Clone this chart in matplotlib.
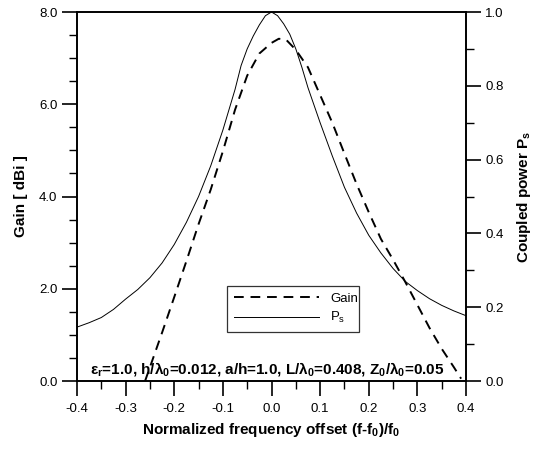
import matplotlib
matplotlib.use("Agg")
import matplotlib.pyplot as plt
from matplotlib.ticker import MultipleLocator, FormatStrFormatter
from matplotlib.lines import Line2D

plt.rcParams['font.family'] = ['Liberation Sans', 'DejaVu Sans']
plt.rcParams['axes.unicode_minus'] = False
plt.rcParams['mathtext.fontset'] = 'custom'
plt.rcParams['mathtext.rm'] = 'Liberation Sans'
plt.rcParams['mathtext.bf'] = 'Liberation Sans:bold'
plt.rcParams['mathtext.it'] = 'Liberation Sans:italic'
plt.rcParams['mathtext.default'] = 'rm'

# Coupled power Ps (right axis)
x_ps = [-0.4, -0.375, -0.35, -0.325, -0.3, -0.275, -0.25, -0.225, -0.2, -0.175,
        -0.15, -0.125, -0.1, -0.075, -0.0625, -0.05, -0.0375, -0.025, -0.0125,
        0.0, 0.0125, 0.025, 0.0375, 0.05, 0.0625, 0.075, 0.1, 0.125, 0.15,
        0.175, 0.2, 0.225, 0.25, 0.275, 0.3, 0.325, 0.35, 0.375, 0.4]
ps = [0.146, 0.158, 0.172, 0.194, 0.222, 0.248, 0.280, 0.320, 0.370, 0.430,
      0.500, 0.583, 0.680, 0.790, 0.855, 0.900, 0.935, 0.965, 0.990,
      1.000, 0.990, 0.968, 0.940, 0.900, 0.850, 0.795, 0.700, 0.610, 0.525,
      0.455, 0.395, 0.347, 0.305, 0.270, 0.245, 0.223, 0.205, 0.190, 0.177]

# Gain in dBi (left axis)
x_gain = [-0.26, -0.25, -0.225, -0.2, -0.175, -0.15, -0.125, -0.1, -0.075,
          -0.05, -0.025, 0.0, 0.015, 0.03, 0.05, 0.075, 0.1, 0.125, 0.15,
          0.175, 0.2, 0.225, 0.25, 0.275, 0.3, 0.325, 0.35, 0.375, 0.39]
gain = [0.0, 0.30, 1.05, 1.82, 2.60, 3.40, 4.15, 4.98, 5.88,
        6.62, 7.10, 7.33, 7.42, 7.40, 7.18, 6.80, 6.20, 5.60, 4.93,
        4.27, 3.66, 3.08, 2.63, 2.15, 1.65, 1.15, 0.70, 0.30, 0.05]

fig = plt.figure(figsize=(5.43, 4.49), dpi=100)
ax = fig.add_axes([77 / 543, 1 - 381 / 449, 389 / 543, 369 / 449])
ax2 = ax.twinx()

ax.plot(x_gain, gain, color='black', lw=1.4, ls=(0, (5, 3.5)))
ax2.plot(x_ps, ps, color='black', lw=0.7)

ax.set_xlim(-0.4, 0.4)
ax.set_ylim(0, 8)
ax2.set_ylim(0, 1)

ax.xaxis.set_major_locator(MultipleLocator(0.1))
ax.xaxis.set_minor_locator(MultipleLocator(0.05))
ax.yaxis.set_major_locator(MultipleLocator(2))
ax.yaxis.set_minor_locator(MultipleLocator(0.5))
ax2.yaxis.set_major_locator(MultipleLocator(0.2))
ax2.yaxis.set_minor_locator(MultipleLocator(0.1))
ax.xaxis.set_major_formatter(FormatStrFormatter('%.1f'))
ax.yaxis.set_major_formatter(FormatStrFormatter('%.1f'))
ax2.yaxis.set_major_formatter(FormatStrFormatter('%.1f'))

for a in (ax, ax2):
    a.tick_params(which='major', direction='out', length=11, width=1.2, labelsize=9.5, pad=3)
    a.tick_params(which='minor', direction='out', length=5.5, width=1.0)
    for s in a.spines.values():
        s.set_linewidth(1.2)
ax.tick_params(axis='x', pad=5)

ax.set_xlabel('Normalized frequency offset (f-f$_\\mathbf{0}$)/f$_\\mathbf{0}$',
              fontsize=11, fontweight='bold', labelpad=4)
ax.set_ylabel('Gain [ dBi ]', fontsize=11, fontweight='bold', labelpad=8)
ax2.set_ylabel('Coupled power P$_\\mathbf{s}$', fontsize=11, fontweight='bold', labelpad=8)

ax.text(-0.373, 0.17,
        'ε$_\\mathbf{r}$=1.0, h/λ$_\\mathbf{0}$=0.012, a/h=1.0, L/λ$_\\mathbf{0}$=0.408, '
        'Z$_\\mathbf{0}$/λ$_\\mathbf{0}$=0.05',
        fontsize=11, fontweight='bold', va='baseline', ha='left')

handles = [Line2D([], [], color='black', lw=1.4, ls=(0, (5, 3.5))),
           Line2D([], [], color='black', lw=0.7)]
leg = ax.legend(handles, ['Gain', 'P$_\\mathrm{s}$'], loc='lower left',
                bbox_to_anchor=(150 / 389, 49 / 369, 132 / 389, 50 / 369),
                mode='expand', fontsize=9.5, frameon=True, fancybox=False,
                handlelength=6.5, handletextpad=0.8, borderaxespad=0,
                borderpad=0.5, labelspacing=0.4)
leg.get_frame().set_edgecolor('black')
leg.get_frame().set_linewidth(0.9)

fig.savefig('out.png', dpi=100)
